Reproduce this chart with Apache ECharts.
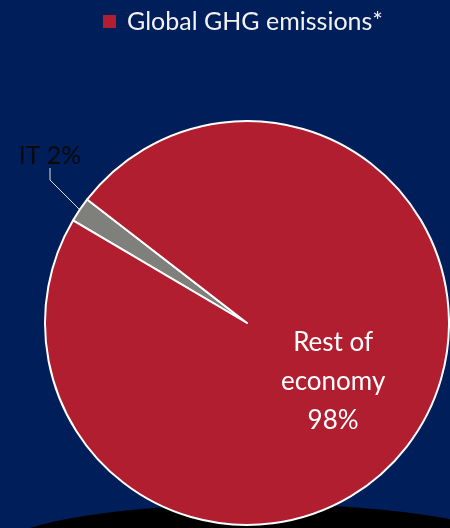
<!DOCTYPE html>
<html>
<head>
<meta charset="utf-8">
<script src="https://cdn.jsdelivr.net/npm/echarts@6/dist/echarts.min.js"></script>
<style>
html,body{margin:0;padding:0;background:#001E59;}
#chart{width:450px;height:528px;}
</style>
</head>
<body>
<div id="chart"></div>
<script>
const seriesName = 'Global GHG emissions*';
const categories = ['IT', 'Rest of economy'];
const values = [2, 98];
const labelTexts = ['IT 2%', 'Rest of\neconomy\n98%'];

const chart = echarts.init(document.getElementById('chart'), null, {renderer: 'canvas'});
const FONT = 'Lato';

chart.setOption({
  backgroundColor: '#001E59',
  animation: false,
  legend: {
    data: [seriesName],
    left: 98,
    top: 4,
    icon: 'rect',
    itemWidth: 13,
    itemHeight: 13,
    itemStyle: {borderWidth: 0, color: '#B01E2F'},
    textStyle: {color: '#F2F2F2', fontSize: 25, fontFamily: FONT, padding: [0, 0, 0, 6]}
  },
  graphic: [{
    type: 'circle',
    z: 0,
    x: 258, y: 553,
    scaleY: 0.185,
    shape: {cx: 0, cy: 0, r: 265},
    style: {fill: '#000000'},
    silent: true
  }],
  series: [{
    name: seriesName,
    type: 'pie',
    z: 2,
    center: [247, 323],
    radius: 202,
    startAngle: 149.5,
    clockwise: true,
    itemStyle: {color: '#B01E2F', borderColor: '#FFFFFF', borderWidth: 2},
    data: categories.map((c, i) => {
      const item = {name: c, value: values[i]};
      if (i === 0) {
        item.itemStyle = {color: '#7F7F7B'};
        item.label = {position: 'outside', color: '#0A0A0A', fontSize: 25, fontFamily: FONT, padding: [0, 0, 16, 0], overflow: 'none'};
        item.labelLine = {show: true, length: 20, length2: 12, lineStyle: {color: '#E0E0E0', width: 1}};
      } else {
        item.label = {position: 'inside', color: '#FFFFFF', fontSize: 26, lineHeight: 39, fontFamily: FONT};
        item.labelLine = {show: false};
      }
      return item;
    }),
    label: {
      show: true,
      overflow: 'none',
      formatter: p => labelTexts[p.dataIndex]
    },
    labelLayout: function (p) {
      if (p.dataIndex === 0) {
        return {x: 50, y: 184, align: 'center', verticalAlign: 'bottom'};
      }
      return {};
    },
    emphasis: {disabled: true}
  }]
});
</script>
</body>
</html>
